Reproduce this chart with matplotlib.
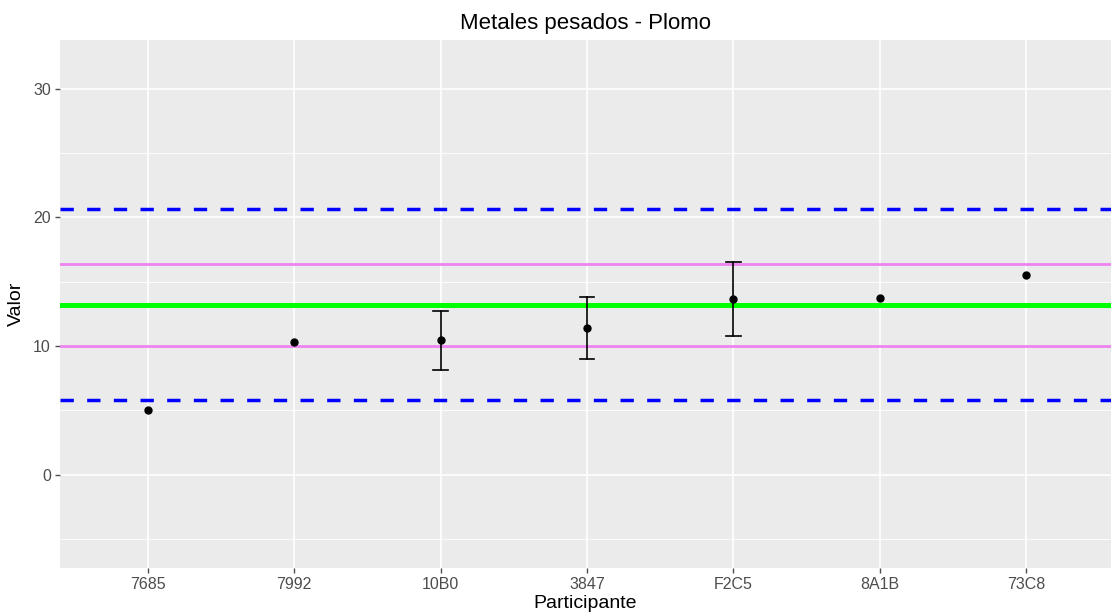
import matplotlib
matplotlib.use("Agg")
import matplotlib.pyplot as plt
import numpy as np

plt.rcParams['font.family'] = ['Liberation Sans', 'DejaVu Sans']
plt.rcParams['lines.scale_dashes'] = False

participants = ["7685", "7992", "10B0", "3847", "F2C5", "8A1B", "73C8"]
values = [5.0, 10.3, 10.47, 11.38, 13.65, 13.71, 15.5]
err_low = [None, None, 8.16, 8.97, 10.75, None, None]
err_high = [None, None, 12.75, 13.81, 16.53, None, None]

ref_value = 13.2
inner_limits = [10.0, 16.4]
outer_limits = [5.77, 20.65]

yticks = [0, 10, 20, 30]
yminor = [-5, 5, 15, 25]

fig = plt.figure(figsize=(11.11, 6.15), dpi=100)
ax = fig.add_axes([60/1111, 47/615, 1051/1111, 528/615])
ax.set_facecolor("#EBEBEB")
for s in ax.spines.values():
    s.set_visible(False)

x = np.arange(len(participants))
ax.set_xlim(-0.6, 6.58)
ax.set_ylim(-7.25, 33.78)

for yv in yminor:
    ax.axhline(yv, color="white", lw=0.6, zorder=0)
for yv in yticks:
    ax.axhline(yv, color="white", lw=1.2, zorder=0)
for xv in x:
    ax.axvline(xv, color="white", lw=1.2, zorder=0)

for yv in outer_limits:
    ax.axhline(yv, color="#0000FF", lw=2.5, dashes=(9.6, 9.6), zorder=2)
for yv in inner_limits:
    ax.axhline(yv, color="#EE82EE", lw=2.0, zorder=2)
ax.axhline(ref_value, color="#00FF00", lw=3.6, zorder=2)

for xi, lo, hi in zip(x, err_low, err_high):
    if lo is not None:
        ax.plot([xi, xi], [lo, hi], color="black", lw=1.2, zorder=3)
        for yy in (lo, hi):
            ax.plot([xi - 0.05, xi + 0.05], [yy, yy], color="black", lw=1.2, zorder=3)

ax.plot(x, values, "o", color="black", ms=5, zorder=4)

ax.set_xticks(x)
ax.set_xticklabels(participants)
ax.set_yticks(yticks)
ax.tick_params(axis="both", colors="#4D4D4D", labelcolor="#4D4D4D", labelsize=11.5, length=3.5, width=1, pad=3)
ax.set_xlabel("Participante", fontsize=14, color="black", labelpad=2)
ax.set_ylabel("Valor", fontsize=14, color="black", labelpad=6)
ax.set_title("Metales pesados - Plomo", fontsize=16, color="black", pad=8)

fig.savefig("out.png", dpi=100)
